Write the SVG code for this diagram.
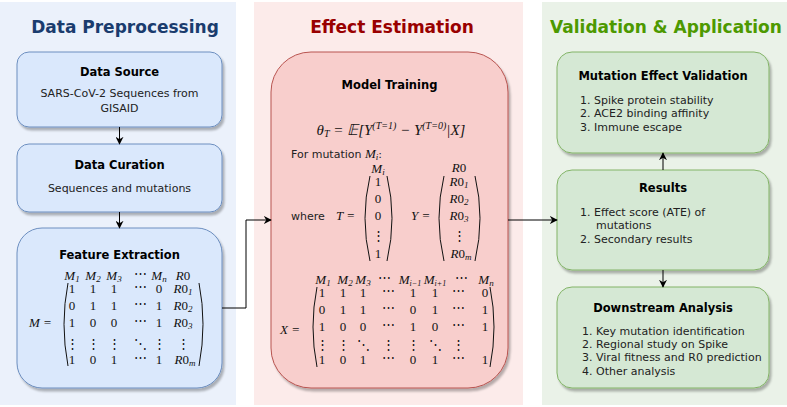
<svg xmlns="http://www.w3.org/2000/svg" width="787" height="407" viewBox="0 0 787 407">
<defs>
<filter id="sh" x="-10%" y="-10%" width="125%" height="125%">
<feDropShadow dx="2" dy="3" stdDeviation="1.2" flood-color="#000" flood-opacity="0.28"/>
</filter>
<marker id="arr" viewBox="0 0 10 10" refX="9" refY="5" markerWidth="8" markerHeight="8" markerUnits="userSpaceOnUse" orient="auto">
<path d="M0,0 L10,5 L0,10 L3,5 Z" fill="#000"/>
</marker>
<style>
.ptitle{font-family:"DejaVu Sans",Verdana,sans-serif;font-weight:bold;font-size:17px;text-anchor:middle}
.ntitle{font-family:"DejaVu Sans",Verdana,sans-serif;font-weight:bold;font-size:11.5px;text-anchor:middle;fill:#000}
.body{font-family:"DejaVu Sans",Verdana,sans-serif;font-size:11px;fill:#222}
.c{text-anchor:middle}
.m{font-family:"Liberation Serif","DejaVu Serif",serif;font-size:13px;fill:#111}
.mi{font-family:"Liberation Serif","DejaVu Serif",serif;font-size:13px;font-style:italic;fill:#111}
.sub{font-size:9px}
.sm{font-size:8px}
.f{font-size:15px}
.fs{font-size:10px}
.blue{fill:#dae8fc;stroke:#6c8ebf;stroke-width:1}
.red{fill:#f8cecc;stroke:#b85450;stroke-width:1}
.green{fill:#d5e8d4;stroke:#82b366;stroke-width:1}
.paren{fill:none;stroke:#111;stroke-width:1}
.conn{fill:none;stroke:#000;stroke-width:1;marker-end:url(#arr)}
</style>
</defs>

<g id="panels">
<rect x="0" y="2" width="236" height="403" fill="#ebf1fb"/>
<rect x="254" y="2" width="269" height="403" fill="#fcebea"/>
<rect x="542" y="2" width="245" height="403" fill="#eaf2e8"/>
<text class="ptitle" x="125" y="33" fill="#1a3c6e">Data Preprocessing</text>
<text class="ptitle" x="392" y="33" fill="#990000">Effect Estimation</text>
<text class="ptitle" x="666" y="33" fill="#4d9900">Validation &amp; Application</text>
</g>

<g id="data-source">
<rect class="blue" x="17" y="52" width="205" height="75" rx="12" filter="url(#sh)"/>
<text class="ntitle" x="119.5" y="76">Data Source</text>
<text class="body c" x="119.5" y="97">SARS-CoV-2 Sequences from</text>
<text class="body c" x="119.5" y="112">GISAID</text>
</g>

<g id="data-curation">
<rect class="blue" x="17" y="144" width="205" height="68" rx="12" filter="url(#sh)"/>
<text class="ntitle" x="119.5" y="169">Data Curation</text>
<text class="body c" x="119.5" y="192">Sequences and mutations</text>
</g>

<g id="feature-extraction">
<rect class="blue" x="17" y="228" width="205" height="160" rx="25" filter="url(#sh)"/>
<text class="ntitle" x="119.5" y="259">Feature Extraction</text>
<text class="mi" x="29" y="327">M <tspan class="m">=</tspan></text>
<g class="mi" text-anchor="middle">
<text x="72" y="280">M<tspan class="sub" dy="2">1</tspan></text>
<text x="93" y="280">M<tspan class="sub" dy="2">2</tspan></text>
<text x="114" y="280">M<tspan class="sub" dy="2">3</tspan></text>
<text x="159" y="280">M<tspan class="sub" dy="2">n</tspan></text>
<text x="183" y="280">R<tspan style="font-style:normal">0</tspan></text>
</g>
<text class="m" x="140" y="278" text-anchor="middle">⋯</text>
<g class="m" text-anchor="middle">
<text x="72" y="293">1</text><text x="93" y="293">1</text><text x="114" y="293">1</text><text x="140" y="291">⋯</text><text x="159" y="293">0</text>
<text x="72" y="310">0</text><text x="93" y="310">1</text><text x="114" y="310">1</text><text x="140" y="308">⋯</text><text x="159" y="310">1</text>
<text x="72" y="327">1</text><text x="93" y="327">0</text><text x="114" y="327">0</text><text x="140" y="325">⋯</text><text x="159" y="327">1</text>
<text x="72" y="348">⋮</text><text x="93" y="348">⋮</text><text x="114" y="348">⋮</text><text x="140" y="348">⋱</text><text x="159" y="348">⋮</text><text x="183" y="348">⋮</text>
<text x="72" y="364">1</text><text x="93" y="364">0</text><text x="114" y="364">1</text><text x="140" y="362">⋯</text><text x="159" y="364">1</text>
</g>
<g class="mi" text-anchor="middle">
<text x="183" y="293">R<tspan style="font-style:normal">0<tspan class="sub" dy="2" style="font-style:italic">1</tspan></tspan></text>
<text x="183" y="310">R<tspan style="font-style:normal">0<tspan class="sub" dy="2" style="font-style:italic">2</tspan></tspan></text>
<text x="183" y="327">R<tspan style="font-style:normal">0<tspan class="sub" dy="2" style="font-style:italic">3</tspan></tspan></text>
<text x="185" y="364">R<tspan style="font-style:normal">0<tspan class="sub" dy="2" style="font-style:italic">m</tspan></tspan></text>
</g>
<path class="paren" d="M68,283 Q60,324 68,366"/>
<path class="paren" d="M199,283 Q207,324 199,366"/>
</g>

<g id="model-training">
<rect class="red" x="271" y="52" width="237" height="336" rx="40" filter="url(#sh)"/>
<text class="ntitle" x="389.5" y="89">Model Training</text>
<text class="mi f" x="391" y="135" text-anchor="middle">θ<tspan class="fs" dy="2">T</tspan><tspan dy="-2" class="m f"> = 𝔼[</tspan>Y<tspan class="fs" dy="-6">(T=1)</tspan><tspan class="m f" dy="6"> − </tspan>Y<tspan class="fs" dy="-6">(T=0)</tspan><tspan class="m f" dy="6">|</tspan>X<tspan class="m f">]</tspan></text>
<text class="body" x="291" y="158">For mutation <tspan class="mi">M<tspan class="sub" dy="2">i</tspan></tspan><tspan dy="-2">:</tspan></text>
<text class="body" x="291" y="220">where</text>
<text class="mi" x="336" y="220">T <tspan class="m">=</tspan></text>
<text class="mi" x="378" y="173" text-anchor="middle">M<tspan class="sub" dy="2">i</tspan></text>
<g class="m" text-anchor="middle">
<text x="378" y="186">1</text>
<text x="378" y="203">0</text>
<text x="378" y="220">0</text>
<text x="378" y="240">⋮</text>
<text x="378" y="258">1</text>
</g>
<path class="paren" d="M370,176 Q360,218 370,261"/>
<path class="paren" d="M387,176 Q397,218 387,261"/>
<text class="mi" x="411" y="220">Y <tspan class="m">=</tspan></text>
<g class="mi" text-anchor="middle">
<text x="459" y="172">R<tspan style="font-style:normal">0</tspan></text>
<text x="459" y="186">R<tspan style="font-style:normal">0<tspan class="sub" dy="2" style="font-style:italic">1</tspan></tspan></text>
<text x="459" y="203">R<tspan style="font-style:normal">0<tspan class="sub" dy="2" style="font-style:italic">2</tspan></tspan></text>
<text x="459" y="220">R<tspan style="font-style:normal">0<tspan class="sub" dy="2" style="font-style:italic">3</tspan></tspan></text>
<text x="459" y="240" style="font-style:normal">⋮</text>
<text x="461" y="258">R<tspan style="font-style:normal">0<tspan class="sub" dy="2" style="font-style:italic">m</tspan></tspan></text>
</g>
<path class="paren" d="M444,176 Q434,218 444,261"/>
<path class="paren" d="M475,176 Q485,218 475,261"/>
<text class="mi" x="280" y="334">X <tspan class="m">=</tspan></text>
<g class="mi" text-anchor="middle">
<text x="323" y="284">M<tspan class="sub" dy="2">1</tspan></text>
<text x="345" y="284">M<tspan class="sub" dy="2">2</tspan></text>
<text x="363" y="284">M<tspan class="sub" dy="2">3</tspan></text>
<text x="410" y="284">M<tspan class="sm" dy="2">i−1</tspan></text>
<text x="435" y="284">M<tspan class="sm" dy="2">i+1</tspan></text>
<text x="486" y="284">M<tspan class="sub" dy="2">n</tspan></text>
</g>
<g class="m" text-anchor="middle">
<text x="384" y="282">⋯</text><text x="461" y="282">⋯</text>
<text x="322" y="297">1</text><text x="343" y="297">1</text><text x="363" y="297">1</text><text x="388" y="295">⋯</text><text x="413" y="297">1</text><text x="435" y="297">1</text><text x="458" y="295">⋯</text><text x="485" y="297">0</text>
<text x="322" y="314">0</text><text x="343" y="314">1</text><text x="363" y="314">1</text><text x="388" y="312">⋯</text><text x="413" y="314">0</text><text x="435" y="314">1</text><text x="458" y="312">⋯</text><text x="485" y="314">1</text>
<text x="322" y="331">1</text><text x="343" y="331">0</text><text x="363" y="331">0</text><text x="388" y="329">⋯</text><text x="413" y="331">1</text><text x="435" y="331">0</text><text x="458" y="329">⋯</text><text x="485" y="331">1</text>
<text x="322" y="349">⋮</text><text x="343" y="349">⋮</text><text x="363" y="349">⋱</text><text x="388" y="349">⋮</text><text x="413" y="349">⋮</text><text x="435" y="349">⋱</text><text x="458" y="349">⋮</text>
<text x="322" y="364">1</text><text x="343" y="364">0</text><text x="363" y="364">1</text><text x="388" y="362">⋯</text><text x="413" y="364">0</text><text x="435" y="364">1</text><text x="458" y="362">⋯</text><text x="485" y="364">1</text>
</g>
<path class="paren" d="M317,287 Q309,327 317,367"/>
<path class="paren" d="M490,287 Q498,327 490,367"/>
</g>

<g id="mutation-effect-validation">
<rect class="green" x="557" y="52" width="212" height="101" rx="15" filter="url(#sh)"/>
<text class="ntitle" x="663" y="80">Mutation Effect Validation</text>
<text class="body" x="580" y="104">1. Spike protein stability</text>
<text class="body" x="580" y="117">2. ACE2 binding affinity</text>
<text class="body" x="580" y="131">3. Immune escape</text>
</g>

<g id="results">
<rect class="green" x="557" y="170" width="212" height="100" rx="15" filter="url(#sh)"/>
<text class="ntitle" x="663" y="192">Results</text>
<text class="body" x="580" y="216">1. Effect score (ATE) of</text>
<text class="body" x="596" y="229">mutations</text>
<text class="body" x="580" y="243">2. Secondary results</text>
</g>

<g id="downstream-analysis">
<rect class="green" x="557" y="287" width="212" height="101" rx="15" filter="url(#sh)"/>
<text class="ntitle" x="663" y="312">Downstream Analysis</text>
<text class="body" x="582" y="335">1. Key mutation identification</text>
<text class="body" x="582" y="348">2. Regional study on Spike</text>
<text class="body" x="582" y="361">3. Viral fitness and R0 prediction</text>
<text class="body" x="582" y="375">4. Other analysis</text>
</g>

<g id="connectors">
<path class="conn" d="M119.5,127 V144"/>
<path class="conn" d="M119.5,212 V228"/>
<path class="conn" d="M222,308 H246 V220 H271"/>
<path class="conn" d="M508,220 H557"/>
<path class="conn" d="M663,170 V153"/>
<path class="conn" d="M663,270 V287"/>
</g>
</svg>
